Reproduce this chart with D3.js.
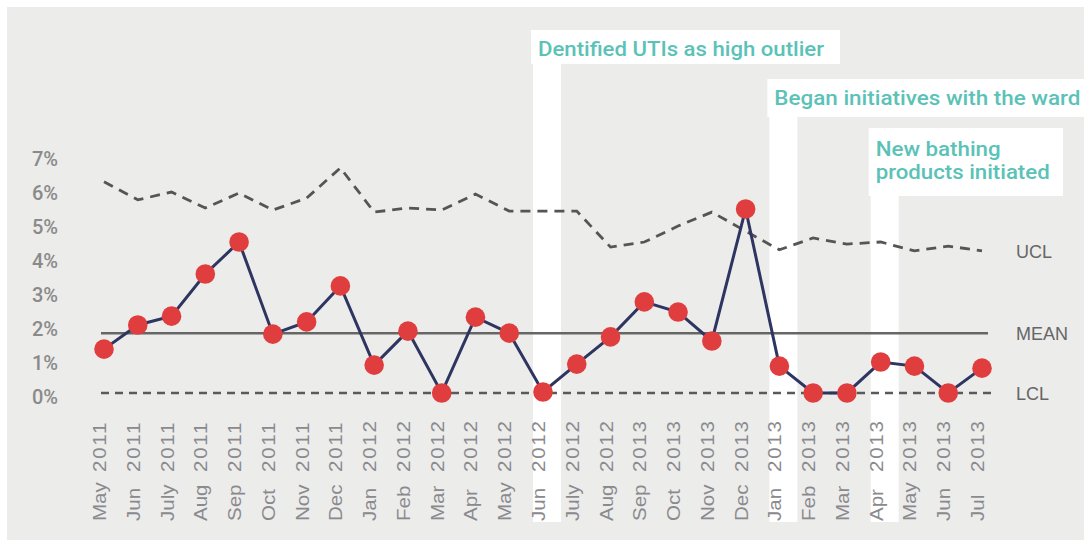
<!DOCTYPE html>
<html><head><meta charset="utf-8">
<script src="https://cdn.jsdelivr.net/npm/d3@7"></script>
<style>body{margin:0;background:#fff}svg{display:block}</style>
</head><body><svg id="c" width="1084" height="540"></svg>
<script>
// ---- data ----
const months = ["May","Jun","July","Aug","Sep","Oct","Nov","Dec","Jan","Feb","Mar","Apr","May","Jun","July","Aug","Sep","Oct","Nov","Dec","Jan","Feb","Mar","Apr","May","Jun","Jul"];
const years  = ["2011","2011","2011","2011","2011","2011","2011","2011","2012","2012","2012","2012","2012","2012","2012","2012","2013","2013","2013","2013","2013","2013","2013","2013","2013","2013","2013"];
const rate   = [1.32,2.03,2.29,3.53,4.47,1.76,2.12,3.18,0.85,1.85,0.03,2.26,1.79,0.06,0.88,1.68,2.71,2.41,1.56,5.44,0.82,0.03,0.03,0.94,0.82,0.03,0.76];
const ucl    = [6.24,5.71,5.94,5.47,5.91,5.41,5.76,6.65,5.35,5.47,5.41,5.88,5.38,5.38,5.38,4.32,4.47,4.94,5.35,4.79,4.24,4.59,4.41,4.47,4.21,4.35,4.21];
const meanValue = 1.79;
const lclValue = 0.03;
const yTicks = [0,1,2,3,4,5,6,7];
const annotationIndex = [13, 20, 23];
const annotationTexts = [["Dentified UTIs as high outlier"],["Began initiatives with the ward"],["New bathing","products initiated"]];
const limitLabels = ["UCL","MEAN","LCL"];

// ---- layout ----
const W = 1084, H = 540;
const keys = months.map((m,i)=>m+" "+years[i]);
const x = d3.scalePoint().domain(keys).range([104, 982]);
const y = d3.scaleLinear().domain([0,7]).range([394, 156]);
const svg = d3.select("#c");

svg.append("rect").attr("x",7).attr("y",7).attr("width",W-7).attr("height",H-7).attr("fill","#ececeb");

// annotation layout (box tops, heights, right edges, text widths, baselines)
const boxLayout = [
  {top:30, h:34, right:840, tl:[286], base:[56]},
  {top:79, h:38, right:1084, tl:[306], base:[105]},
  {top:128, h:68, right:1063, tl:[125,174], base:[156,179]}
];
const ann = svg.append("g");
annotationIndex.forEach((idx,k)=>{
  const cx = x(keys[idx]);
  const L = boxLayout[k];
  const stripLeft = cx - 10;
  ann.append("rect").attr("x",stripLeft).attr("y",L.top).attr("width",28).attr("height",522-L.top).attr("fill","#fff");
  ann.append("rect").attr("x",stripLeft-2).attr("y",L.top).attr("width",L.right-(stripLeft-2)).attr("height",L.h).attr("fill","#fff");
  annotationTexts[k].forEach((t,j)=>{
    ann.append("text").attr("x",stripLeft+5).attr("y",L.base[j])
      .attr("font-family","Roboto").attr("font-weight",500).attr("font-size",21)
      .attr("fill","#5bc2b7").attr("textLength",L.tl[j]).attr("lengthAdjust","spacingAndGlyphs").text(t);
  });
});

// y tick labels
svg.append("g").selectAll("text").data(yTicks).join("text")
  .attr("x",58).attr("y",d=>y(d)+3).attr("text-anchor","end").attr("dominant-baseline","central")
  .attr("font-family","Roboto").attr("font-weight",500).attr("font-size",20).attr("fill","#8a8a8a")
  .text(d=>d+"%");

// x labels
const xl = svg.append("g").attr("font-family","Liberation Sans, Arial, sans-serif").attr("font-size",19).attr("fill","#8a8a8e");
keys.forEach((k,i)=>{
  const px = x(k)+2;
  xl.append("text").attr("transform",`translate(${px},521) rotate(-90) scale(1.08,1)`).text(months[i]);
  xl.append("text").attr("transform",`translate(${px},472) rotate(-90) scale(1.08,1)`).attr("letter-spacing",1.6).text(years[i]);
});

// limit lines
svg.append("line").attr("x1",101).attr("x2",988).attr("y1",y(meanValue)).attr("y2",y(meanValue))
  .attr("stroke","#666").attr("stroke-width",2.5);
svg.append("line").attr("x1",101).attr("x2",992).attr("y1",y(lclValue)).attr("y2",y(lclValue))
  .attr("stroke","#5a5a5a").attr("stroke-width",2.5).attr("stroke-dasharray","8,6");
svg.append("path").datum(ucl).attr("fill","none").attr("stroke","#555").attr("stroke-width",2.8)
  .attr("stroke-dasharray","10,7")
  .attr("d", d3.line().x((d,i)=>x(keys[i])).y(d=>y(d)));

// limit labels
const lv = [ucl[ucl.length-1], meanValue, lclValue];
svg.append("g").selectAll("text").data(limitLabels).join("text")
  .attr("x",1016).attr("y",(d,i)=>y(lv[i])+1).attr("dominant-baseline","central")
  .attr("font-family","Liberation Sans, Arial, sans-serif").attr("font-size",18).attr("fill","#666")
  .text(d=>d);

// data line + points
svg.append("path").datum(rate).attr("fill","none").attr("stroke","#2e3561").attr("stroke-width",3)
  .attr("d", d3.line().x((d,i)=>x(keys[i])).y(d=>y(d)));
svg.append("g").selectAll("circle").data(rate).join("circle")
  .attr("cx",(d,i)=>x(keys[i])).attr("cy",d=>y(d)).attr("r",9.8).attr("fill","#e03e3e");
</script></body></html>
